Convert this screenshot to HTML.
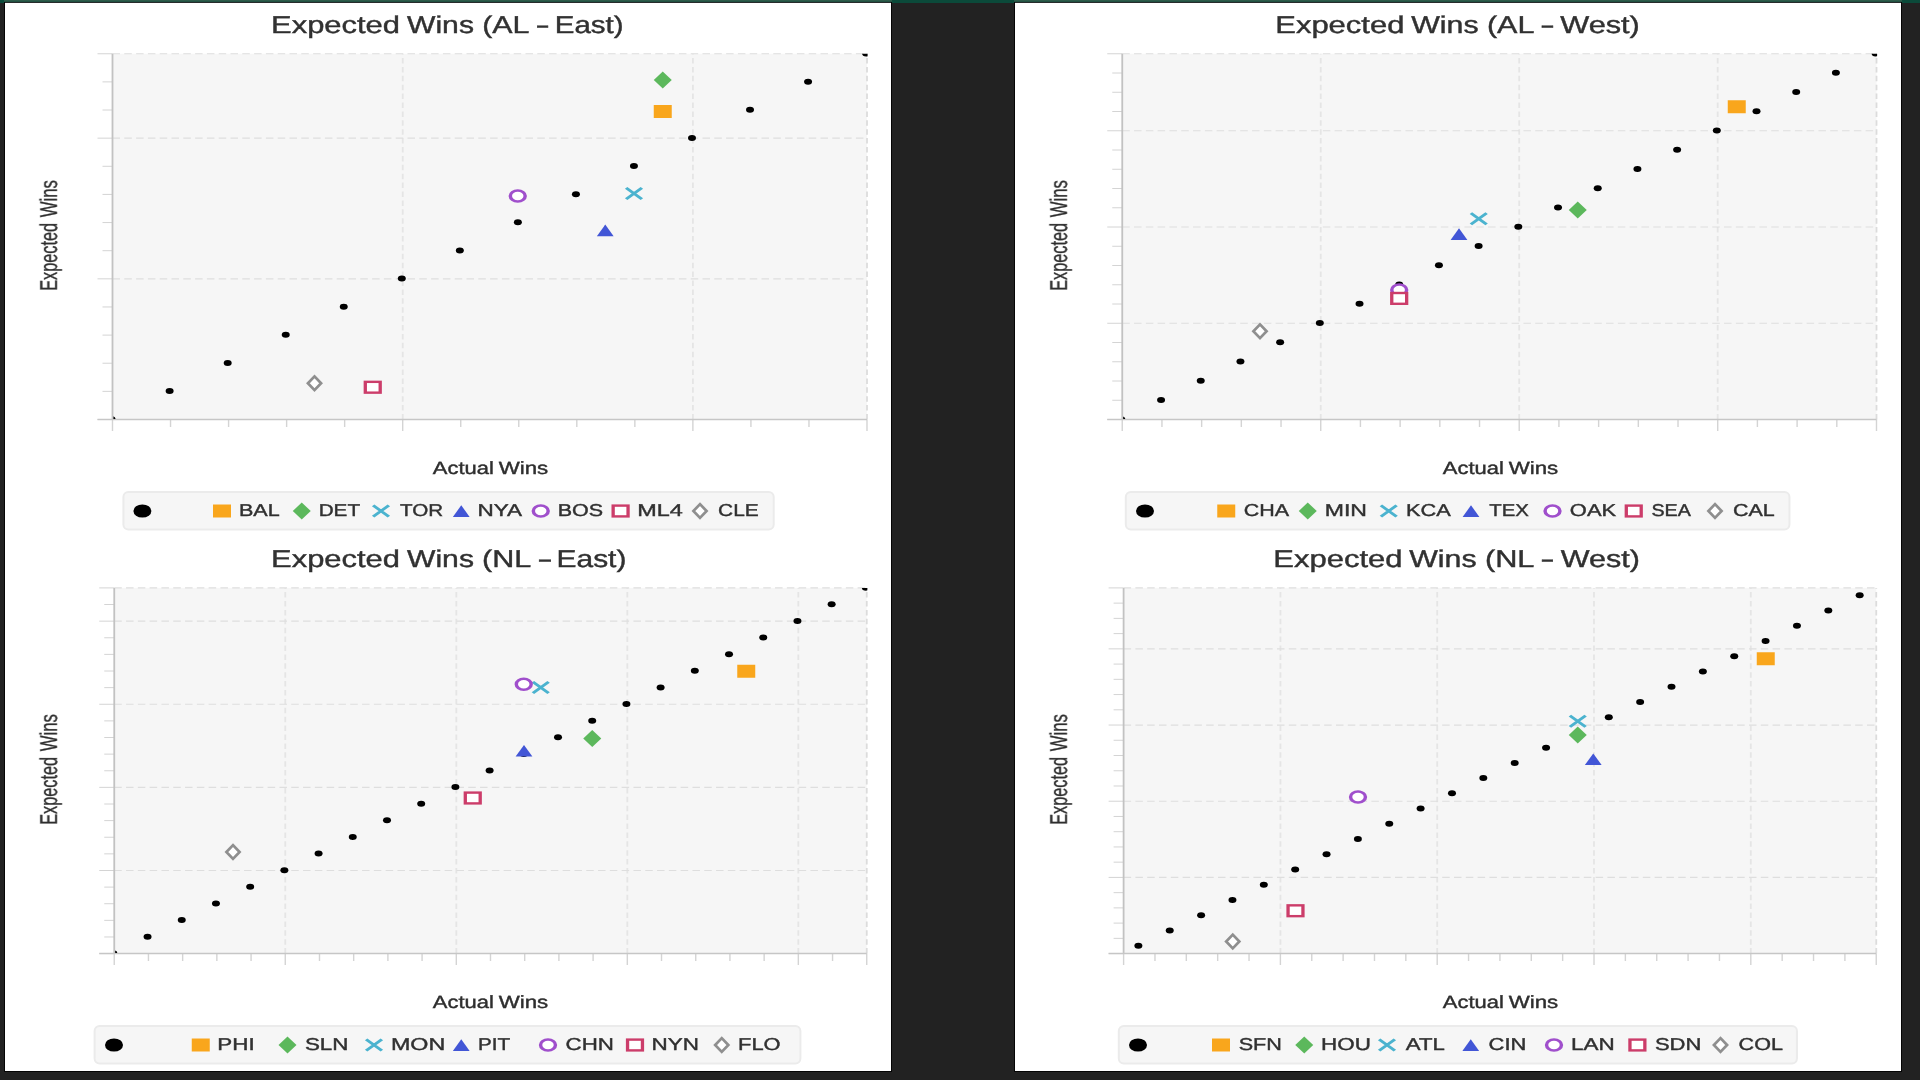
<!DOCTYPE html>
<html><head><meta charset="utf-8"><title>Expected Wins</title>
<style>
html,body{margin:0;padding:0;background:#222222;overflow:hidden}
svg{display:block;font-family:"Liberation Sans",sans-serif;text-rendering:geometricPrecision}
</style></head><body>
<svg width="1920" height="1080" viewBox="0 0 1920 1080">
<defs><filter id="bl" x="-2%" y="-2%" width="104%" height="104%"><feGaussianBlur stdDeviation="0.5"/></filter></defs>
<rect x="0" y="0" width="1920" height="1080" fill="#222222"/>
<rect x="0" y="0" width="1920" height="3" fill="#0b4a3a"/>
<rect x="4.5" y="2.3" width="887" height="1069.2" fill="#ffffff" stroke="#050505" stroke-width="1"/>
<rect x="4" y="0" width="888" height="1.7" fill="#2e5c4a"/>
<rect x="1014.5" y="2.3" width="887" height="1069.2" fill="#ffffff" stroke="#050505" stroke-width="1"/>
<rect x="1014" y="0" width="888" height="1.7" fill="#2e5c4a"/>
<clipPath id="c1"><rect x="113.4" y="53.75" width="754.2" height="365.15"/></clipPath>
<g filter="url(#bl)"><rect x="112.5" y="53.75" width="754.5" height="365.75" fill="#f6f6f6"/>
<path d="M402.69 419.5V53.75M692.88 419.5V53.75" stroke="#e5e5e5" stroke-width="1.8" stroke-dasharray="5.5 3.4" fill="none"/>
<path d="M867.00 419.5V53.75" stroke="#dcdcdc" stroke-width="1.8" stroke-dasharray="5.5 3.4" fill="none"/>
<path d="M112.5 278.83H867.0M112.5 138.15H867.0M112.5 53.75H867.0" stroke="#dedede" stroke-width="1.2" stroke-dasharray="7.5 4.3" fill="none"/>
<path d="M112.50 419.5v11.5M170.54 419.5v7.5M228.58 419.5v7.5M286.62 419.5v7.5M344.65 419.5v7.5M402.69 419.5v11.5M460.73 419.5v7.5M518.77 419.5v7.5M576.81 419.5v7.5M634.85 419.5v7.5M692.88 419.5v11.5M750.92 419.5v7.5M808.96 419.5v7.5M867.00 419.5v11.5" stroke="#d4d4d4" stroke-width="1.4" fill="none"/>
<path d="M112.5 419.50h-15M112.5 391.37h-10M112.5 363.23h-10M112.5 335.10h-10M112.5 306.96h-10M112.5 278.83h-15M112.5 250.69h-10M112.5 222.56h-10M112.5 194.42h-10M112.5 166.29h-10M112.5 138.15h-15M112.5 110.02h-10M112.5 81.88h-10M112.5 53.75h-15" stroke="#d4d4d4" stroke-width="1" fill="none"/>
<path d="M112.5 53.75V419.5" stroke="#c2c2c2" stroke-width="1.8" fill="none"/>
<path d="M97.5 419.5H867.0" stroke="#c6c6c6" stroke-width="1.5" fill="none"/>
<g clip-path="url(#c1)" fill="#000"><ellipse cx="111.60" cy="419.25" rx="4" ry="3"/><ellipse cx="169.64" cy="391.12" rx="4" ry="3"/><ellipse cx="227.68" cy="362.98" rx="4" ry="3"/><ellipse cx="285.72" cy="334.85" rx="4" ry="3"/><ellipse cx="343.75" cy="306.71" rx="4" ry="3"/><ellipse cx="401.79" cy="278.58" rx="4" ry="3"/><ellipse cx="459.83" cy="250.44" rx="4" ry="3"/><ellipse cx="517.87" cy="222.31" rx="4" ry="3"/><ellipse cx="575.91" cy="194.17" rx="4" ry="3"/><ellipse cx="633.95" cy="166.04" rx="4" ry="3"/><ellipse cx="691.98" cy="137.90" rx="4" ry="3"/><ellipse cx="750.02" cy="109.77" rx="4" ry="3"/><ellipse cx="808.06" cy="81.63" rx="4" ry="3"/><ellipse cx="866.10" cy="53.50" rx="4" ry="3"/></g>
<rect x="653.75" y="105.00" width="18" height="13" fill="#f9a61e"/>
<path d="M662.75 71.40L671.75 80.00L662.75 88.60L653.75 80.00Z" fill="#5cb85c"/>
<g transform="translate(634.00,193.50) scale(1.38,1)"><path d="M-5.7 -5.7L5.7 5.7M-5.7 5.7L5.7 -5.7" stroke="#4bb3cf" stroke-width="2.5" fill="none"/></g>
<path d="M605.25 224.55L613.65 236.25L596.85 236.25Z" fill="#4356d6"/>
<g transform="translate(517.75,196.00) scale(1.38,1)"><circle cx="0" cy="0" r="5.4" fill="#fff" stroke="#a050cc" stroke-width="2.5"/></g>
<g transform="translate(372.75,387.25) scale(1.38,1)"><rect x="-5.4" y="-5.4" width="10.8" height="10.8" fill="#fff" stroke="#cc3d6a" stroke-width="2.4"/></g>
<g transform="translate(314.50,383.25) scale(1.38,1)"><path d="M0 -6.9L4.8 0L0 6.9L-4.8 0Z" fill="#fff" stroke="#8f8f8f" stroke-width="2.2"/></g>
<text y="32.85" font-size="24.3" fill="#303030" stroke="#303030" stroke-width="0.4"><tspan x="271.10" textLength="128.79" lengthAdjust="spacingAndGlyphs">Expected</tspan> <tspan x="407.00" textLength="66.95" lengthAdjust="spacingAndGlyphs">Wins</tspan> <tspan x="482.15" textLength="46.15" lengthAdjust="spacingAndGlyphs">(AL</tspan> <tspan x="535.47" textLength="14.27" lengthAdjust="spacingAndGlyphs">-</tspan> <tspan x="554.71" textLength="68.90" lengthAdjust="spacingAndGlyphs">East)</tspan></text>
<text transform="translate(56.85,0) rotate(-90)" y="0" font-size="24.0" fill="#2e2e2e" stroke="#2e2e2e" stroke-width="0.4"><tspan x="-290.84" textLength="67.89" lengthAdjust="spacingAndGlyphs">Expected</tspan> <tspan x="-217.28" textLength="37.27" lengthAdjust="spacingAndGlyphs">Wins</tspan></text>
<text y="473.85" font-size="17.7" fill="#2e2e2e" stroke="#2e2e2e" stroke-width="0.4"><tspan x="432.80" textLength="60.97" lengthAdjust="spacingAndGlyphs">Actual</tspan> <tspan x="498.79" textLength="49.48" lengthAdjust="spacingAndGlyphs">Wins</tspan></text>
<rect x="123.39999999999999" y="492.10" width="650.30" height="37.40" rx="5" ry="5" fill="#f6f6f6" stroke="#ebebeb" stroke-width="2"/>
<ellipse cx="142.4" cy="511" rx="9" ry="6.6" fill="#000"/>
<rect x="213.00" y="504.50" width="18" height="13" fill="#f9a61e"/>
<text transform="translate(238.92,516.40) scale(1.2618,1)" font-size="17.1" fill="#303030" stroke="#303030" stroke-width="0.4">BAL</text>
<path d="M301.75 502.40L310.75 511.00L301.75 519.60L292.75 511.00Z" fill="#5cb85c"/>
<text transform="translate(318.69,516.40) scale(1.2097,1)" font-size="17.1" fill="#303030" stroke="#303030" stroke-width="0.4">DET</text>
<g transform="translate(381.00,511.00) scale(1.38,1)"><path d="M-5.7 -5.7L5.7 5.7M-5.7 5.7L5.7 -5.7" stroke="#4bb3cf" stroke-width="2.5" fill="none"/></g>
<text transform="translate(399.94,516.40) scale(1.2057,1)" font-size="17.1" fill="#303030" stroke="#303030" stroke-width="0.4">TOR</text>
<path d="M461.25 505.30L469.65 517.00L452.85 517.00Z" fill="#4356d6"/>
<text transform="translate(477.54,516.40) scale(1.3160,1)" font-size="17.1" fill="#303030" stroke="#303030" stroke-width="0.4">NYA</text>
<g transform="translate(540.75,511.00) scale(1.38,1)"><circle cx="0" cy="0" r="5.4" fill="#fff" stroke="#a050cc" stroke-width="2.5"/></g>
<text transform="translate(557.63,516.40) scale(1.2580,1)" font-size="17.1" fill="#303030" stroke="#303030" stroke-width="0.4">BOS</text>
<g transform="translate(620.60,511.00) scale(1.38,1)"><rect x="-5.4" y="-5.4" width="10.8" height="10.8" fill="#fff" stroke="#cc3d6a" stroke-width="2.4"/></g>
<text transform="translate(637.22,516.40) scale(1.3688,1)" font-size="17.1" fill="#303030" stroke="#303030" stroke-width="0.4">ML4</text>
<g transform="translate(700.00,511.00) scale(1.38,1)"><path d="M0 -6.9L4.8 0L0 6.9L-4.8 0Z" fill="#fff" stroke="#8f8f8f" stroke-width="2.2"/></g>
<text transform="translate(718.11,516.40) scale(1.2217,1)" font-size="17.1" fill="#303030" stroke="#303030" stroke-width="0.4">CLE</text></g>
<clipPath id="c2"><rect x="1123.15" y="53.75" width="753.95" height="365.15"/></clipPath>
<g filter="url(#bl)"><rect x="1122.25" y="53.75" width="754.25" height="365.75" fill="#f6f6f6"/>
<path d="M1320.74 419.5V53.75M1519.22 419.5V53.75M1717.71 419.5V53.75" stroke="#e5e5e5" stroke-width="1.8" stroke-dasharray="5.5 3.4" fill="none"/>
<path d="M1876.50 419.5V53.75" stroke="#dcdcdc" stroke-width="1.8" stroke-dasharray="5.5 3.4" fill="none"/>
<path d="M1122.25 323.25H1876.5M1122.25 227.00H1876.5M1122.25 130.75H1876.5M1122.25 53.75H1876.5" stroke="#dedede" stroke-width="1.2" stroke-dasharray="7.5 4.3" fill="none"/>
<path d="M1122.25 419.5v11.5M1161.95 419.5v7.5M1201.64 419.5v7.5M1241.34 419.5v7.5M1281.04 419.5v7.5M1320.74 419.5v11.5M1360.43 419.5v7.5M1400.13 419.5v7.5M1439.83 419.5v7.5M1479.53 419.5v7.5M1519.22 419.5v11.5M1558.92 419.5v7.5M1598.62 419.5v7.5M1638.32 419.5v7.5M1678.01 419.5v7.5M1717.71 419.5v11.5M1757.41 419.5v7.5M1797.11 419.5v7.5M1836.80 419.5v7.5M1876.50 419.5v11.5" stroke="#d4d4d4" stroke-width="1.4" fill="none"/>
<path d="M1122.25 419.50h-15M1122.25 400.25h-10M1122.25 381.00h-10M1122.25 361.75h-10M1122.25 342.50h-10M1122.25 323.25h-15M1122.25 304.00h-10M1122.25 284.75h-10M1122.25 265.50h-10M1122.25 246.25h-10M1122.25 227.00h-15M1122.25 207.75h-10M1122.25 188.50h-10M1122.25 169.25h-10M1122.25 150.00h-10M1122.25 130.75h-15M1122.25 111.50h-10M1122.25 92.25h-10M1122.25 73.00h-10M1122.25 53.75h-15" stroke="#d4d4d4" stroke-width="1" fill="none"/>
<path d="M1122.25 53.75V419.5" stroke="#c2c2c2" stroke-width="1.8" fill="none"/>
<path d="M1107.25 419.5H1876.5" stroke="#c6c6c6" stroke-width="1.5" fill="none"/>
<g clip-path="url(#c2)" fill="#000"><ellipse cx="1121.35" cy="419.25" rx="4" ry="3"/><ellipse cx="1161.05" cy="400.00" rx="4" ry="3"/><ellipse cx="1200.74" cy="380.75" rx="4" ry="3"/><ellipse cx="1240.44" cy="361.50" rx="4" ry="3"/><ellipse cx="1280.14" cy="342.25" rx="4" ry="3"/><ellipse cx="1319.84" cy="323.00" rx="4" ry="3"/><ellipse cx="1359.53" cy="303.75" rx="4" ry="3"/><ellipse cx="1399.23" cy="284.50" rx="4" ry="3"/><ellipse cx="1438.93" cy="265.25" rx="4" ry="3"/><ellipse cx="1478.63" cy="246.00" rx="4" ry="3"/><ellipse cx="1518.32" cy="226.75" rx="4" ry="3"/><ellipse cx="1558.02" cy="207.50" rx="4" ry="3"/><ellipse cx="1597.72" cy="188.25" rx="4" ry="3"/><ellipse cx="1637.42" cy="169.00" rx="4" ry="3"/><ellipse cx="1677.11" cy="149.75" rx="4" ry="3"/><ellipse cx="1716.81" cy="130.50" rx="4" ry="3"/><ellipse cx="1756.51" cy="111.25" rx="4" ry="3"/><ellipse cx="1796.21" cy="92.00" rx="4" ry="3"/><ellipse cx="1835.90" cy="72.75" rx="4" ry="3"/><ellipse cx="1875.60" cy="53.50" rx="4" ry="3"/></g>
<rect x="1727.75" y="100.25" width="18" height="13" fill="#f9a61e"/>
<path d="M1577.75 201.40L1586.75 210.00L1577.75 218.60L1568.75 210.00Z" fill="#5cb85c"/>
<g transform="translate(1478.75,218.75) scale(1.38,1)"><path d="M-5.7 -5.7L5.7 5.7M-5.7 5.7L5.7 -5.7" stroke="#4bb3cf" stroke-width="2.5" fill="none"/></g>
<path d="M1459.00 228.30L1467.40 240.00L1450.60 240.00Z" fill="#4356d6"/>
<g transform="translate(1399.20,290.00) scale(1.38,1)"><circle cx="0" cy="0" r="5.4" fill="#fff" stroke="#a050cc" stroke-width="2.5"/></g>
<g transform="translate(1399.20,298.40) scale(1.38,1)"><rect x="-5.4" y="-5.4" width="10.8" height="10.8" fill="#fff" stroke="#cc3d6a" stroke-width="2.4"/></g>
<g transform="translate(1260.00,331.25) scale(1.38,1)"><path d="M0 -6.9L4.8 0L0 6.9L-4.8 0Z" fill="#fff" stroke="#8f8f8f" stroke-width="2.2"/></g>
<text y="32.85" font-size="24.3" fill="#303030" stroke="#303030" stroke-width="0.4"><tspan x="1275.24" textLength="129.15" lengthAdjust="spacingAndGlyphs">Expected</tspan> <tspan x="1411.25" textLength="67.40" lengthAdjust="spacingAndGlyphs">Wins</tspan> <tspan x="1486.94" textLength="46.36" lengthAdjust="spacingAndGlyphs">(AL</tspan> <tspan x="1539.90" textLength="14.82" lengthAdjust="spacingAndGlyphs">-</tspan> <tspan x="1560.25" textLength="79.60" lengthAdjust="spacingAndGlyphs">West)</tspan></text>
<text transform="translate(1066.85,0) rotate(-90)" y="0" font-size="24.0" fill="#2e2e2e" stroke="#2e2e2e" stroke-width="0.4"><tspan x="-290.84" textLength="67.89" lengthAdjust="spacingAndGlyphs">Expected</tspan> <tspan x="-217.28" textLength="37.27" lengthAdjust="spacingAndGlyphs">Wins</tspan></text>
<text y="473.85" font-size="17.7" fill="#2e2e2e" stroke="#2e2e2e" stroke-width="0.4"><tspan x="1442.80" textLength="60.97" lengthAdjust="spacingAndGlyphs">Actual</tspan> <tspan x="1508.79" textLength="49.48" lengthAdjust="spacingAndGlyphs">Wins</tspan></text>
<rect x="1125.8" y="492.10" width="663.65" height="37.40" rx="5" ry="5" fill="#f6f6f6" stroke="#ebebeb" stroke-width="2"/>
<ellipse cx="1145" cy="511" rx="9" ry="6.6" fill="#000"/>
<rect x="1217.25" y="504.50" width="18" height="13" fill="#f9a61e"/>
<text transform="translate(1243.83,516.40) scale(1.2548,1)" font-size="17.1" fill="#303030" stroke="#303030" stroke-width="0.4">CHA</text>
<path d="M1307.75 502.40L1316.75 511.00L1307.75 519.60L1298.75 511.00Z" fill="#5cb85c"/>
<text transform="translate(1324.75,516.40) scale(1.3484,1)" font-size="17.1" fill="#303030" stroke="#303030" stroke-width="0.4">MIN</text>
<g transform="translate(1388.75,511.00) scale(1.38,1)"><path d="M-5.7 -5.7L5.7 5.7M-5.7 5.7L5.7 -5.7" stroke="#4bb3cf" stroke-width="2.5" fill="none"/></g>
<text transform="translate(1406.10,516.40) scale(1.2734,1)" font-size="17.1" fill="#303030" stroke="#303030" stroke-width="0.4">KCA</text>
<path d="M1471.00 505.30L1479.40 517.00L1462.60 517.00Z" fill="#4356d6"/>
<text transform="translate(1489.19,516.40) scale(1.1911,1)" font-size="17.1" fill="#303030" stroke="#303030" stroke-width="0.4">TEX</text>
<g transform="translate(1552.50,511.00) scale(1.38,1)"><circle cx="0" cy="0" r="5.4" fill="#fff" stroke="#a050cc" stroke-width="2.5"/></g>
<text transform="translate(1569.86,516.40) scale(1.2807,1)" font-size="17.1" fill="#303030" stroke="#303030" stroke-width="0.4">OAK</text>
<g transform="translate(1633.75,511.00) scale(1.38,1)"><rect x="-5.4" y="-5.4" width="10.8" height="10.8" fill="#fff" stroke="#cc3d6a" stroke-width="2.4"/></g>
<text transform="translate(1651.51,516.40) scale(1.1501,1)" font-size="17.1" fill="#303030" stroke="#303030" stroke-width="0.4">SEA</text>
<g transform="translate(1715.00,511.00) scale(1.38,1)"><path d="M0 -6.9L4.8 0L0 6.9L-4.8 0Z" fill="#fff" stroke="#8f8f8f" stroke-width="2.2"/></g>
<text transform="translate(1733.08,516.40) scale(1.2544,1)" font-size="17.1" fill="#303030" stroke="#303030" stroke-width="0.4">CAL</text></g>
<clipPath id="c3"><rect x="115.15" y="587.9" width="752.2" height="365.1"/></clipPath>
<g filter="url(#bl)"><rect x="114.25" y="587.9" width="752.5" height="365.70000000000005" fill="#f6f6f6"/>
<path d="M285.27 953.6V587.9M456.30 953.6V587.9M627.32 953.6V587.9M798.34 953.6V587.9" stroke="#e5e5e5" stroke-width="1.8" stroke-dasharray="5.5 3.4" fill="none"/>
<path d="M866.75 953.6V587.9" stroke="#dcdcdc" stroke-width="1.8" stroke-dasharray="5.5 3.4" fill="none"/>
<path d="M114.25 870.49H866.75M114.25 787.37H866.75M114.25 704.26H866.75M114.25 621.15H866.75M114.25 587.90H866.75" stroke="#dedede" stroke-width="1.2" stroke-dasharray="7.5 4.3" fill="none"/>
<path d="M114.25 953.6v11.5M148.45 953.6v7.5M182.66 953.6v7.5M216.86 953.6v7.5M251.07 953.6v7.5M285.27 953.6v11.5M319.48 953.6v7.5M353.68 953.6v7.5M387.89 953.6v7.5M422.09 953.6v7.5M456.30 953.6v11.5M490.50 953.6v7.5M524.70 953.6v7.5M558.91 953.6v7.5M593.11 953.6v7.5M627.32 953.6v11.5M661.52 953.6v7.5M695.73 953.6v7.5M729.93 953.6v7.5M764.14 953.6v7.5M798.34 953.6v11.5M832.55 953.6v7.5M866.75 953.6v11.5" stroke="#d4d4d4" stroke-width="1.4" fill="none"/>
<path d="M114.25 953.60h-15M114.25 936.98h-10M114.25 920.35h-10M114.25 903.73h-10M114.25 887.11h-10M114.25 870.49h-15M114.25 853.86h-10M114.25 837.24h-10M114.25 820.62h-10M114.25 804.00h-10M114.25 787.37h-15M114.25 770.75h-10M114.25 754.13h-10M114.25 737.50h-10M114.25 720.88h-10M114.25 704.26h-15M114.25 687.64h-10M114.25 671.01h-10M114.25 654.39h-10M114.25 637.77h-10M114.25 621.15h-15M114.25 604.52h-10M114.25 587.90h-15" stroke="#d4d4d4" stroke-width="1" fill="none"/>
<path d="M114.25 587.9V953.6" stroke="#c2c2c2" stroke-width="1.8" fill="none"/>
<path d="M99.25 953.6H866.75" stroke="#c6c6c6" stroke-width="1.5" fill="none"/>
<g clip-path="url(#c3)" fill="#000"><ellipse cx="113.35" cy="953.35" rx="4" ry="3"/><ellipse cx="147.55" cy="936.73" rx="4" ry="3"/><ellipse cx="181.76" cy="920.10" rx="4" ry="3"/><ellipse cx="215.96" cy="903.48" rx="4" ry="3"/><ellipse cx="250.17" cy="886.86" rx="4" ry="3"/><ellipse cx="284.37" cy="870.24" rx="4" ry="3"/><ellipse cx="318.58" cy="853.61" rx="4" ry="3"/><ellipse cx="352.78" cy="836.99" rx="4" ry="3"/><ellipse cx="386.99" cy="820.37" rx="4" ry="3"/><ellipse cx="421.19" cy="803.75" rx="4" ry="3"/><ellipse cx="455.40" cy="787.12" rx="4" ry="3"/><ellipse cx="489.60" cy="770.50" rx="4" ry="3"/><ellipse cx="523.80" cy="753.88" rx="4" ry="3"/><ellipse cx="558.01" cy="737.25" rx="4" ry="3"/><ellipse cx="592.21" cy="720.63" rx="4" ry="3"/><ellipse cx="626.42" cy="704.01" rx="4" ry="3"/><ellipse cx="660.62" cy="687.39" rx="4" ry="3"/><ellipse cx="694.83" cy="670.76" rx="4" ry="3"/><ellipse cx="729.03" cy="654.14" rx="4" ry="3"/><ellipse cx="763.24" cy="637.52" rx="4" ry="3"/><ellipse cx="797.44" cy="620.90" rx="4" ry="3"/><ellipse cx="831.65" cy="604.27" rx="4" ry="3"/><ellipse cx="865.85" cy="587.65" rx="4" ry="3"/></g>
<rect x="737.25" y="664.75" width="18" height="13" fill="#f9a61e"/>
<path d="M592.25 729.90L601.25 738.50L592.25 747.10L583.25 738.50Z" fill="#5cb85c"/>
<g transform="translate(540.75,687.50) scale(1.38,1)"><path d="M-5.7 -5.7L5.7 5.7M-5.7 5.7L5.7 -5.7" stroke="#4bb3cf" stroke-width="2.5" fill="none"/></g>
<path d="M524.00 744.90L532.40 756.60L515.60 756.60Z" fill="#4356d6"/>
<g transform="translate(523.75,684.25) scale(1.38,1)"><circle cx="0" cy="0" r="5.4" fill="#fff" stroke="#a050cc" stroke-width="2.5"/></g>
<g transform="translate(472.75,798.00) scale(1.38,1)"><rect x="-5.4" y="-5.4" width="10.8" height="10.8" fill="#fff" stroke="#cc3d6a" stroke-width="2.4"/></g>
<g transform="translate(233.00,852.00) scale(1.38,1)"><path d="M0 -6.9L4.8 0L0 6.9L-4.8 0Z" fill="#fff" stroke="#8f8f8f" stroke-width="2.2"/></g>
<text y="566.85" font-size="24.3" fill="#303030" stroke="#303030" stroke-width="0.4"><tspan x="271.10" textLength="128.79" lengthAdjust="spacingAndGlyphs">Expected</tspan> <tspan x="407.00" textLength="66.95" lengthAdjust="spacingAndGlyphs">Wins</tspan> <tspan x="482.14" textLength="48.07" lengthAdjust="spacingAndGlyphs">(NL</tspan> <tspan x="537.32" textLength="15.36" lengthAdjust="spacingAndGlyphs">-</tspan> <tspan x="556.53" textLength="69.91" lengthAdjust="spacingAndGlyphs">East)</tspan></text>
<text transform="translate(56.85,0) rotate(-90)" y="0" font-size="24.0" fill="#2e2e2e" stroke="#2e2e2e" stroke-width="0.4"><tspan x="-824.84" textLength="67.89" lengthAdjust="spacingAndGlyphs">Expected</tspan> <tspan x="-751.28" textLength="37.27" lengthAdjust="spacingAndGlyphs">Wins</tspan></text>
<text y="1007.85" font-size="17.7" fill="#2e2e2e" stroke="#2e2e2e" stroke-width="0.4"><tspan x="432.80" textLength="60.97" lengthAdjust="spacingAndGlyphs">Actual</tspan> <tspan x="498.79" textLength="49.48" lengthAdjust="spacingAndGlyphs">Wins</tspan></text>
<rect x="94.6" y="1026.10" width="705.80" height="37.40" rx="5" ry="5" fill="#f6f6f6" stroke="#ebebeb" stroke-width="2"/>
<ellipse cx="114" cy="1045.0" rx="9" ry="6.6" fill="#000"/>
<rect x="191.75" y="1038.50" width="18" height="13" fill="#f9a61e"/>
<text transform="translate(217.30,1050.40) scale(1.3106,1)" font-size="17.1" fill="#303030" stroke="#303030" stroke-width="0.4">PHI</text>
<path d="M287.50 1036.40L296.50 1045.00L287.50 1053.60L278.50 1045.00Z" fill="#5cb85c"/>
<text transform="translate(304.89,1050.40) scale(1.3096,1)" font-size="17.1" fill="#303030" stroke="#303030" stroke-width="0.4">SLN</text>
<g transform="translate(374.00,1045.00) scale(1.38,1)"><path d="M-5.7 -5.7L5.7 5.7M-5.7 5.7L5.7 -5.7" stroke="#4bb3cf" stroke-width="2.5" fill="none"/></g>
<text transform="translate(390.98,1050.40) scale(1.3611,1)" font-size="17.1" fill="#303030" stroke="#303030" stroke-width="0.4">MON</text>
<path d="M461.25 1039.30L469.65 1051.00L452.85 1051.00Z" fill="#4356d6"/>
<text transform="translate(477.95,1050.40) scale(1.2079,1)" font-size="17.1" fill="#303030" stroke="#303030" stroke-width="0.4">PIT</text>
<g transform="translate(548.00,1045.00) scale(1.38,1)"><circle cx="0" cy="0" r="5.4" fill="#fff" stroke="#a050cc" stroke-width="2.5"/></g>
<text transform="translate(565.53,1050.40) scale(1.3061,1)" font-size="17.1" fill="#303030" stroke="#303030" stroke-width="0.4">CHN</text>
<g transform="translate(635.00,1045.00) scale(1.38,1)"><rect x="-5.4" y="-5.4" width="10.8" height="10.8" fill="#fff" stroke="#cc3d6a" stroke-width="2.4"/></g>
<text transform="translate(651.55,1050.40) scale(1.3122,1)" font-size="17.1" fill="#303030" stroke="#303030" stroke-width="0.4">NYN</text>
<g transform="translate(721.75,1045.00) scale(1.38,1)"><path d="M0 -6.9L4.8 0L0 6.9L-4.8 0Z" fill="#fff" stroke="#8f8f8f" stroke-width="2.2"/></g>
<text transform="translate(738.10,1050.40) scale(1.2791,1)" font-size="17.1" fill="#303030" stroke="#303030" stroke-width="0.4">FLO</text></g>
<clipPath id="c4"><rect x="1124.5" y="587.9" width="752.3500000000001" height="365.1"/></clipPath>
<g filter="url(#bl)"><rect x="1123.6" y="587.9" width="752.6500000000001" height="365.70000000000005" fill="#f6f6f6"/>
<path d="M1280.40 953.6V587.9M1437.20 953.6V587.9M1594.01 953.6V587.9M1750.81 953.6V587.9" stroke="#e5e5e5" stroke-width="1.8" stroke-dasharray="5.5 3.4" fill="none"/>
<path d="M1876.25 953.6V587.9" stroke="#dcdcdc" stroke-width="1.8" stroke-dasharray="5.5 3.4" fill="none"/>
<path d="M1123.6 877.41H1876.25M1123.6 801.23H1876.25M1123.6 725.04H1876.25M1123.6 648.85H1876.25M1123.6 587.90H1876.25" stroke="#dedede" stroke-width="1.2" stroke-dasharray="7.5 4.3" fill="none"/>
<path d="M1123.60 953.6v11.5M1154.96 953.6v7.5M1186.32 953.6v7.5M1217.68 953.6v7.5M1249.04 953.6v7.5M1280.40 953.6v11.5M1311.76 953.6v7.5M1343.12 953.6v7.5M1374.48 953.6v7.5M1405.84 953.6v7.5M1437.20 953.6v11.5M1468.56 953.6v7.5M1499.92 953.6v7.5M1531.29 953.6v7.5M1562.65 953.6v7.5M1594.01 953.6v11.5M1625.37 953.6v7.5M1656.73 953.6v7.5M1688.09 953.6v7.5M1719.45 953.6v7.5M1750.81 953.6v11.5M1782.17 953.6v7.5M1813.53 953.6v7.5M1844.89 953.6v7.5M1876.25 953.6v11.5" stroke="#d4d4d4" stroke-width="1.4" fill="none"/>
<path d="M1123.6 953.60h-15M1123.6 938.36h-10M1123.6 923.12h-10M1123.6 907.89h-10M1123.6 892.65h-10M1123.6 877.41h-15M1123.6 862.17h-10M1123.6 846.94h-10M1123.6 831.70h-10M1123.6 816.46h-10M1123.6 801.23h-15M1123.6 785.99h-10M1123.6 770.75h-10M1123.6 755.51h-10M1123.6 740.27h-10M1123.6 725.04h-15M1123.6 709.80h-10M1123.6 694.56h-10M1123.6 679.33h-10M1123.6 664.09h-10M1123.6 648.85h-15M1123.6 633.61h-10M1123.6 618.38h-10M1123.6 603.14h-10M1123.6 587.90h-15" stroke="#d4d4d4" stroke-width="1" fill="none"/>
<path d="M1123.6 587.9V953.6" stroke="#c2c2c2" stroke-width="1.8" fill="none"/>
<path d="M1108.6 953.6H1876.25" stroke="#c6c6c6" stroke-width="1.5" fill="none"/>
<g clip-path="url(#c4)" fill="#000"><ellipse cx="1138.38" cy="945.73" rx="4" ry="3"/><ellipse cx="1169.74" cy="930.49" rx="4" ry="3"/><ellipse cx="1201.10" cy="915.26" rx="4" ry="3"/><ellipse cx="1232.46" cy="900.02" rx="4" ry="3"/><ellipse cx="1263.82" cy="884.78" rx="4" ry="3"/><ellipse cx="1295.18" cy="869.54" rx="4" ry="3"/><ellipse cx="1326.54" cy="854.31" rx="4" ry="3"/><ellipse cx="1357.90" cy="839.07" rx="4" ry="3"/><ellipse cx="1389.26" cy="823.83" rx="4" ry="3"/><ellipse cx="1420.62" cy="808.59" rx="4" ry="3"/><ellipse cx="1451.98" cy="793.36" rx="4" ry="3"/><ellipse cx="1483.34" cy="778.12" rx="4" ry="3"/><ellipse cx="1514.71" cy="762.88" rx="4" ry="3"/><ellipse cx="1546.07" cy="747.64" rx="4" ry="3"/><ellipse cx="1577.43" cy="732.41" rx="4" ry="3"/><ellipse cx="1608.79" cy="717.17" rx="4" ry="3"/><ellipse cx="1640.15" cy="701.93" rx="4" ry="3"/><ellipse cx="1671.51" cy="686.69" rx="4" ry="3"/><ellipse cx="1702.87" cy="671.46" rx="4" ry="3"/><ellipse cx="1734.23" cy="656.22" rx="4" ry="3"/><ellipse cx="1765.59" cy="640.98" rx="4" ry="3"/><ellipse cx="1796.95" cy="625.74" rx="4" ry="3"/><ellipse cx="1828.31" cy="610.51" rx="4" ry="3"/><ellipse cx="1859.67" cy="595.27" rx="4" ry="3"/></g>
<rect x="1756.75" y="652.25" width="18" height="13" fill="#f9a61e"/>
<path d="M1577.75 726.40L1586.75 735.00L1577.75 743.60L1568.75 735.00Z" fill="#5cb85c"/>
<g transform="translate(1577.75,721.25) scale(1.38,1)"><path d="M-5.7 -5.7L5.7 5.7M-5.7 5.7L5.7 -5.7" stroke="#4bb3cf" stroke-width="2.5" fill="none"/></g>
<path d="M1593.25 753.40L1601.65 765.10L1584.85 765.10Z" fill="#4356d6"/>
<g transform="translate(1358.00,797.00) scale(1.38,1)"><circle cx="0" cy="0" r="5.4" fill="#fff" stroke="#a050cc" stroke-width="2.5"/></g>
<g transform="translate(1295.50,910.75) scale(1.38,1)"><rect x="-5.4" y="-5.4" width="10.8" height="10.8" fill="#fff" stroke="#cc3d6a" stroke-width="2.4"/></g>
<g transform="translate(1232.75,941.50) scale(1.38,1)"><path d="M0 -6.9L4.8 0L0 6.9L-4.8 0Z" fill="#fff" stroke="#8f8f8f" stroke-width="2.2"/></g>
<text y="566.85" font-size="24.3" fill="#303030" stroke="#303030" stroke-width="0.4"><tspan x="1273.34" textLength="129.15" lengthAdjust="spacingAndGlyphs">Expected</tspan> <tspan x="1409.25" textLength="67.40" lengthAdjust="spacingAndGlyphs">Wins</tspan> <tspan x="1484.92" textLength="48.39" lengthAdjust="spacingAndGlyphs">(NL</tspan> <tspan x="1540.37" textLength="14.27" lengthAdjust="spacingAndGlyphs">-</tspan> <tspan x="1560.65" textLength="79.19" lengthAdjust="spacingAndGlyphs">West)</tspan></text>
<text transform="translate(1066.85,0) rotate(-90)" y="0" font-size="24.0" fill="#2e2e2e" stroke="#2e2e2e" stroke-width="0.4"><tspan x="-824.84" textLength="67.89" lengthAdjust="spacingAndGlyphs">Expected</tspan> <tspan x="-751.28" textLength="37.27" lengthAdjust="spacingAndGlyphs">Wins</tspan></text>
<text y="1007.85" font-size="17.7" fill="#2e2e2e" stroke="#2e2e2e" stroke-width="0.4"><tspan x="1442.80" textLength="60.97" lengthAdjust="spacingAndGlyphs">Actual</tspan> <tspan x="1508.79" textLength="49.48" lengthAdjust="spacingAndGlyphs">Wins</tspan></text>
<rect x="1118.8" y="1026.10" width="678.15" height="37.40" rx="5" ry="5" fill="#f6f6f6" stroke="#ebebeb" stroke-width="2"/>
<ellipse cx="1138" cy="1045.0" rx="9" ry="6.6" fill="#000"/>
<rect x="1212.00" y="1038.50" width="18" height="13" fill="#f9a61e"/>
<text transform="translate(1238.68,1050.40) scale(1.2633,1)" font-size="17.1" fill="#303030" stroke="#303030" stroke-width="0.4">SFN</text>
<path d="M1304.25 1036.40L1313.25 1045.00L1304.25 1053.60L1295.25 1045.00Z" fill="#5cb85c"/>
<text transform="translate(1321.05,1050.40) scale(1.3099,1)" font-size="17.1" fill="#303030" stroke="#303030" stroke-width="0.4">HOU</text>
<g transform="translate(1387.00,1045.00) scale(1.38,1)"><path d="M-5.7 -5.7L5.7 5.7M-5.7 5.7L5.7 -5.7" stroke="#4bb3cf" stroke-width="2.5" fill="none"/></g>
<text transform="translate(1405.84,1050.40) scale(1.2969,1)" font-size="17.1" fill="#303030" stroke="#303030" stroke-width="0.4">ATL</text>
<path d="M1470.75 1039.30L1479.15 1051.00L1462.35 1051.00Z" fill="#4356d6"/>
<text transform="translate(1488.55,1050.40) scale(1.2854,1)" font-size="17.1" fill="#303030" stroke="#303030" stroke-width="0.4">CIN</text>
<g transform="translate(1554.00,1045.00) scale(1.38,1)"><circle cx="0" cy="0" r="5.4" fill="#fff" stroke="#a050cc" stroke-width="2.5"/></g>
<text transform="translate(1571.05,1050.40) scale(1.3125,1)" font-size="17.1" fill="#303030" stroke="#303030" stroke-width="0.4">LAN</text>
<g transform="translate(1637.40,1045.00) scale(1.38,1)"><rect x="-5.4" y="-5.4" width="10.8" height="10.8" fill="#fff" stroke="#cc3d6a" stroke-width="2.4"/></g>
<text transform="translate(1654.91,1050.40) scale(1.2874,1)" font-size="17.1" fill="#303030" stroke="#303030" stroke-width="0.4">SDN</text>
<g transform="translate(1720.50,1045.00) scale(1.38,1)"><path d="M0 -6.9L4.8 0L0 6.9L-4.8 0Z" fill="#fff" stroke="#8f8f8f" stroke-width="2.2"/></g>
<text transform="translate(1738.57,1050.40) scale(1.2615,1)" font-size="17.1" fill="#303030" stroke="#303030" stroke-width="0.4">COL</text></g>
</svg>
</body></html>
